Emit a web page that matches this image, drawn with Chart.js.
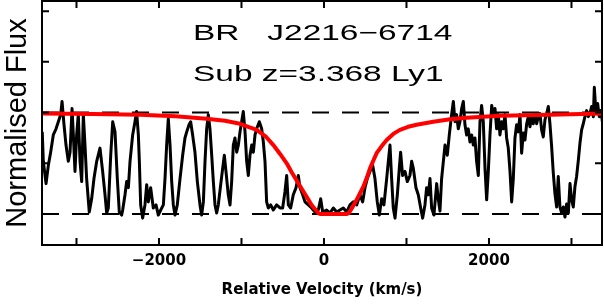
<!DOCTYPE html>
<html>
<head>
<meta charset="utf-8">
<script src="https://cdn.jsdelivr.net/npm/chart.js@4.4.1/dist/chart.umd.min.js"></script>
<style>
  html, body { margin: 0; padding: 0; background: #fff; }
  canvas { display: block; }
</style>
</head>
<body>
<canvas id="grafico" width="604" height="306"></canvas>
<script>
// espectro observado (velocidad km/s, flujo normalizado)
const velocidad = [
  -3415, -3402, -3369, -3341, -3313, -3281, -3248, -3220, -3192, -3175, -3151, -3127,
  -3099, -3078, -3054, -3038, -3018, -2998, -2978, -2957, -2937, -2917, -2897, -2877,
  -2845, -2816, -2788, -2755, -2715, -2683, -2654, -2634, -2614, -2585, -2561, -2533,
  -2505, -2481, -2452, -2440, -2412, -2392, -2371, -2351, -2319, -2291, -2271, -2250,
  -2238, -2222, -2198, -2170, -2149, -2129, -2101, -2069, -2036, -2008, -1979, -1947,
  -1927, -1907, -1887, -1866, -1846, -1826, -1806, -1778, -1745, -1713, -1685, -1664,
  -1636, -1616, -1592, -1564, -1535, -1503, -1483, -1462, -1442, -1422, -1402, -1382,
  -1361, -1341, -1321, -1301, -1281, -1252, -1228, -1208, -1188, -1160, -1139, -1119,
  -1099, -1079, -1058, -1038, -1018, -998, -978, -957, -937, -917, -897, -876,
  -856, -836, -816, -784, -755, -735, -715, -695, -675, -646, -614, -574,
  -533, -501, -473, -452, -432, -404, -372, -339, -311, -291, -258, -230,
  -190, -150, -109, -69, -40, -16, 32, 73, 113, 154, 194, 234,
  275, 315, 355, 396, 436, 469, 497, 525, 558, 590, 618, 646,
  671, 699, 727, 760, 780, 800, 820, 840, 861, 889, 913, 929,
  953, 982, 1010, 1042, 1063, 1083, 1115, 1143, 1172, 1196, 1224, 1244,
  1265, 1285, 1305, 1333, 1366, 1385, 1406, 1426, 1467, 1495, 1519, 1547,
  1568, 1588, 1608, 1628, 1648, 1669, 1689, 1709, 1729, 1749, 1770, 1790,
  1810, 1830, 1850, 1871, 1891, 1911, 1931, 1952, 1972, 1992, 2012, 2033,
  2053, 2073, 2093, 2113, 2133, 2154, 2174, 2194, 2214, 2234, 2255, 2275,
  2295, 2315, 2335, 2356, 2376, 2396, 2416, 2436, 2457, 2477, 2497, 2517,
  2537, 2558, 2578, 2598, 2618, 2638, 2658, 2679, 2699, 2719, 2739, 2760,
  2780, 2800, 2820, 2840, 2860, 2881, 2901, 2921, 2941, 2962, 2982, 3002,
  3022, 3042, 3062, 3083, 3103, 3123, 3143, 3163, 3184, 3204, 3224, 3244,
  3265, 3277, 3297, 3317, 3337, 3357, 3378
];
const flujo = [
  0.81, 0.52, 0.30, 0.48, 0.61, 0.78, 0.84, 0.91, 0.98, 1.11, 0.88, 0.68,
  0.52, 0.61, 1.04, 0.78, 0.42, 0.78, 0.98, 0.52, 0.32, 0.98, 0.68, 0.35,
  0.02, 0.15, 0.35, 0.52, 0.65, 0.42, 0.19, 0.01, 0.06, 0.58, 0.91, 0.81,
  0.35, 0.02, -0.01, 0.04, 0.19, 0.32, 0.26, 0.52, 0.78, 0.91, 1.01, 0.78,
  0.52, 0.09, -0.04, 0.09, 0.29, 0.12, 0.26, 0.06, 0.09, -0.01, 0.04, 0.09,
  0.35, 0.68, 0.94, 0.68, 0.32, 0.09, -0.01, 0.09, 0.35, 0.58, 0.75, 0.81,
  0.88, 0.91, 0.78, 0.61, 0.32, 0.09, -0.01, 0.12, 0.52, 0.84, 0.98, 0.84,
  0.58, 0.32, 0.09, 0.01, 0.09, 0.29, 0.45, 0.58, 0.42, 0.19, 0.09, 0.32,
  0.68, 0.75, 0.61, 0.68, 0.81, 0.91, 1.01, 0.81, 0.52, 0.38, 0.58, 0.68,
  0.61, 0.78, 0.84, 0.91, 0.84, 0.71, 0.52, 0.12, 0.06, 0.09, 0.04, 0.09,
  0.06, 0.06, 0.22, 0.38, 0.09, 0.06, 0.19, 0.26, 0.38, 0.26, 0.19, 0.12,
  0.09, 0.06, 0.02, 0.04, 0.15, 0.02, 0.04, 0.01, 0.06, 0.02, 0.04, 0.06,
  0.02, 0.09, 0.12, 0.09, 0.19, 0.12, 0.26, 0.35, 0.42, 0.48, 0.35, 0.12,
  -0.01, 0.15, 0.09, 0.35, 0.52, 0.68, 0.35, 0.06, -0.04, 0.19, 0.45, 0.61,
  0.38, 0.42, 0.32, 0.38, 0.52, 0.45, 0.26, 0.19, 0.06, -0.04, 0.09, 0.26,
  0.19, 0.35, 0.06, -0.01, 0.30, 0.15, 0.03, 0.35, 0.68, 0.58, 0.78, 0.98,
  1.11, 0.91, 0.98, 0.84, 0.91, 1.04, 1.11, 0.88, 0.78, 0.84, 0.71, 0.78,
  0.68, 0.75, 0.52, 0.38, 0.91, 1.07, 0.91, 0.45, 0.14, 0.42, 0.78, 1.07,
  0.98, 1.04, 0.84, 0.98, 0.78, 0.91, 0.84, 0.98, 0.75, 0.65, 0.42, 0.12,
  0.35, 0.75, 0.88, 0.81, 0.98, 0.60, 0.80, 0.73, 0.89, 0.96, 0.86, 0.96,
  0.89, 0.99, 0.89, 0.96, 0.99, 0.83, 0.76, 0.93, 0.99, 1.06, 0.89, 0.66,
  0.40, 0.20, 0.07, 0.37, 0.07, 0.01, 0.07, -0.03, 0.10, 0.01, 0.30, 0.14,
  0.07, 0.27, 0.37, 0.53, 0.70, 0.83, 0.89, 0.96, 1.02, 0.96, 0.99, 1.06,
  0.96, 1.25, 0.99, 1.09, 0.96, 1.02, 0.89
];

// perfil ajustado (rojo)
const velAjuste = [
  -3418, -2800, -2230, -1800, -1422, -1200, -1018, -816, -700, -614, -530, -452,
  -390, -331, -270, -210, -150, -100, -69, -40, 270, 300, 340, 396,
  440, 477, 520, 558, 600, 638, 700, 760, 840, 921, 1020, 1123,
  1325, 1529, 1729, 2133, 2739, 3370
];
const flujoAjuste = [
  0.99, 0.985, 0.98, 0.965, 0.94, 0.92, 0.89, 0.83, 0.76, 0.68, 0.59, 0.50,
  0.41, 0.33, 0.25, 0.17, 0.09, 0.04, 0.01, 0.0, 0.0, 0.01, 0.06, 0.14,
  0.21, 0.27, 0.36, 0.45, 0.53, 0.60, 0.67, 0.73, 0.79, 0.83, 0.86, 0.88,
  0.91, 0.935, 0.95, 0.97, 0.98, 0.99
];

const nivelesGuia = [0, 1];
const rangoX = [-3418, 3370];
const rangoY = [-0.305, 2.1];
const marcasX = [-3000, -2000, -1000, 0, 1000, 2000, 3000];
const etiquetasX = ['', '\u22122000', '', '0', '', '2000', ''];
const marcasY = [0, 0.5, 1, 1.5, 2];
const titulo = ['BR   J2216\u22126714', 'Sub z=3.368 Ly1'];

const puntos = (xs, ys) => xs.map((v, i) => ({ x: v, y: ys[i] }));

const guias = nivelesGuia.map(n => ({
  data: [{ x: rangoX[0], y: n }, { x: rangoX[1], y: n }],
  borderColor: '#000',
  borderWidth: 2,
  borderDash: [17, 13],
  pointRadius: 0,
  order: 3
}));

// marco, marcas internas y texto
const marco = {
  id: 'marco',
  afterDraw(chart) {
    const { ctx, chartArea: a, scales: { x, y } } = chart;
    ctx.save();
    ctx.strokeStyle = '#000';
    ctx.lineWidth = 2;
    ctx.strokeRect(a.left, a.top, a.right - a.left, a.bottom - a.top);
    ctx.beginPath();
    x.ticks.forEach(t => {
      const px = x.getPixelForValue(t.value);
      ctx.moveTo(px, a.bottom); ctx.lineTo(px, a.bottom - 7);
      ctx.moveTo(px, a.top); ctx.lineTo(px, a.top + 7);
    });
    y.ticks.forEach(t => {
      const py = y.getPixelForValue(t.value);
      ctx.moveTo(a.left, py); ctx.lineTo(a.left + 7, py);
      ctx.moveTo(a.right, py); ctx.lineTo(a.right - 7, py);
    });
    ctx.stroke();

    ctx.fillStyle = '#000';
    ctx.font = '22px "Liberation Sans"';
    ctx.textBaseline = 'alphabetic';
    [40, 81].forEach((base, i) => {
      ctx.save();
      ctx.translate(193, base);
      ctx.scale(1.52, 1);
      ctx.fillText(titulo[i], 0, 0);
      ctx.restore();
    });
    ctx.restore();
  }
};

new Chart(document.getElementById('grafico'), {
  type: 'line',
  data: {
    datasets: [
      {
        data: puntos(velAjuste, flujoAjuste),
        borderColor: '#ff0000',
        borderWidth: 4,
        pointRadius: 0,
        borderJoinStyle: 'round',
        order: 1
      },
      {
        data: puntos(velocidad, flujo),
        borderColor: '#000',
        borderWidth: 3,
        pointRadius: 0,
        borderJoinStyle: 'round',
        order: 2
      },
      ...guias
    ]
  },
  options: {
    responsive: false,
    animation: false,
    devicePixelRatio: 1,
    layout: { padding: { top: 1, right: 2, left: 0, bottom: 0 } },
    plugins: { legend: { display: false }, tooltip: { enabled: false } },
    scales: {
      x: {
        type: 'linear',
        min: rangoX[0],
        max: rangoX[1],
        afterBuildTicks: s => { s.ticks = marcasX.map(v => ({ value: v })); },
        afterFit: s => { s.height = 61; },
        grid: { display: false, drawTicks: false },
        border: { display: false },
        ticks: {
          autoSkip: false,
          maxRotation: 0,
          padding: 7,
          color: '#000',
          font: { family: 'DejaVu Sans', size: 15, weight: 'bold' },
          callback: (v, i) => etiquetasX[i]
        },
        title: {
          display: true,
          text: 'Relative Velocity (km/s)',
          color: '#000',
          padding: { top: 0, bottom: 7 },
          font: { family: 'DejaVu Sans', size: 15, weight: 'bold' }
        }
      },
      y: {
        min: rangoY[0],
        max: rangoY[1],
        afterBuildTicks: s => { s.ticks = marcasY.map(v => ({ value: v })); },
        afterFit: s => { s.width = 42; },
        grid: { display: false, drawTicks: false },
        border: { display: false },
        ticks: { display: false },
        title: {
          display: true,
          text: 'Normalised Flux',
          color: '#000',
          padding: { top: 1, bottom: 0 },
          font: { family: 'Liberation Sans', size: 29 }
        }
      }
    }
  },
  plugins: [marco]
});
</script>
</body>
</html>
